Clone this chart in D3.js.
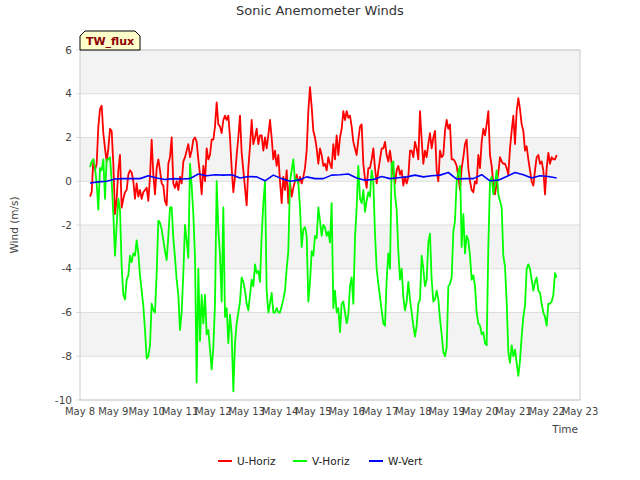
<!DOCTYPE html>
<html>
<head>
<meta charset="utf-8">
<script src="https://cdn.jsdelivr.net/npm/d3@7"></script>
<style>
  body { margin: 0; background: #fff; }
  svg { display: block; font-family: "DejaVu Sans", sans-serif; }
</style>
</head>
<body>
<svg id="chart" width="640" height="480"></svg>
<script>
// ---- data ----
const seriesNames = ["U-Horiz", "V-Horiz", "W-Vert"];
const seriesColors = ["#ff0000", "#00ff00", "#0000ff"];
const yTicks = [-10, -8, -6, -4, -2, 0, 2, 4, 6];

// U and V sampled every 0.05 day from May 8 07:12
const uvStart = "2021-05-08T07:12:00";
const uvStepMinutes = 72;
const uHoriz = [
 -0.7,-0.5,1.0,0.5,0.8,2.5,3.3,3.45,2.2,1.5,0.9,1.5,2.4,2.3,0.8,-1.5,-0.8,0.5,1.2,-1.2,
 -0.8,-0.5,-0.4,0.3,0.5,0.4,0.0,-0.8,-0.1,-0.7,-0.4,-0.8,-0.5,-0.4,-0.3,-0.9,0.2,1.9,0.3,-0.6,
 0.6,1.0,0.5,-0.1,-0.2,-0.9,-1.1,0.8,1.1,2.0,-0.1,-0.3,0.0,-0.4,0.2,-0.1,0.9,1.1,1.4,1.7,
 1.1,1.4,1.9,2.0,1.8,1.0,0.3,-0.6,0.7,0.0,
 1.5,1.0,1.2,1.9,1.9,2.5,3.6,2.6,2.5,2.2,2.8,3.0,2.8,3.0,2.0,0.6,-0.5,0.2,1.2,2.0,
 3.0,1.3,0.5,-0.3,-1.1,0.6,1.6,2.8,1.7,2.0,2.4,1.7,2.1,2.1,1.4,2.0,1.5,2.1,2.8,2.0,
 1.0,1.4,0.7,1.2,0.0,-1.0,0.2,-0.4,0.5,-1.0,0.0,-0.7,-0.3,0.0,0.3,-0.1,0.2,-0.1,0.2,0.6,
 1.4,3.2,4.3,3.4,2.3,2.0,1.5,0.8,1.5,1.2,0.7,
 0.8,0.5,1.1,0.8,0.6,1.7,1.0,2.1,1.2,2.0,2.4,3.2,2.8,3.2,2.9,3.0,2.5,1.8,1.5,1.2,
 1.9,2.5,2.6,0.8,0.1,-0.3,0.6,0.6,1.0,1.5,0.6,-0.1,0.5,1.0,1.5,1.5,1.8,1.2,0.9,1.4,
 0.8,0.3,-0.1,0.5,0.7,0.3,0.5,-0.2,0.2,-0.1,0.2,1.4,1.4,1.1,1.8,1.5,1.0,3.2,1.9,0.8,
 1.4,1.1,1.7,2.2,1.5,2.0,2.3,0.5,0.0,1.4,1.1,
 1.2,2.3,2.8,2.4,2.6,1.0,1.0,0.9,0.7,0.2,-0.4,0.6,1.1,1.7,1.9,0.6,0.0,-0.4,-0.5,0.0,
 -0.1,1.2,0.6,1.8,2.4,2.1,2.6,3.2,1.2,0.7,-0.1,-0.6,-0.1,0.4,1.1,0.9,0.8,0.8,0.6,0.3,
 1.5,2.3,3.0,1.7,3.2,3.8,3.3,2.6,2.3,1.4,1.6,1.0,0.5,0.0,-0.2,0.5,1.1,1.2,0.8,0.9,
 0.5,-0.6,0.6,1.3,0.8,1.1,1.0,1.0,1.2
];
const vHoriz = [
 0.65,0.9,1.0,0.6,-0.1,-1.3,0.6,0.5,1.0,-0.8,1.0,1.0,1.1,0.0,-1.5,-3.4,-2.0,-0.8,-1.3,-3.9,
 -5.2,-5.4,-4.5,-4.3,-3.4,-3.7,-3.3,-3.4,-2.7,-3.3,-4.3,-5.0,-5.7,-6.8,-8.1,-8.0,-7.5,-5.6,-5.9,-6.0,
 -4.2,-1.8,-1.9,-2.2,-2.7,-3.2,-3.6,-2.5,-1.2,-1.2,-2.6,-3.5,-4.5,-5.2,-6.8,-6.0,-4.2,-2.0,-2.7,-3.5,
 0.8,-0.2,-1.5,-3.5,-9.2,-4.0,-7.3,-5.2,-6.5,-5.2,
 -7.0,-6.8,-7.7,-8.6,-7.6,-5.6,0.0,-2.2,-3.4,-5.5,-1.2,-6.2,-5.8,-7.4,-6.1,-7.0,-9.6,-7.4,-6.5,-6.0,
 -5.5,-4.4,-4.6,-5.0,-5.6,-5.9,-5.2,-4.5,-4.8,-3.8,-4.2,-4.1,-4.6,-2.5,-1.0,0.0,-5.0,-6.0,-5.6,-5.1,
 -6.0,-6.0,-5.8,-6.0,-6.0,-5.7,-5.4,-5.0,-4.0,-3.2,0.0,0.5,1.0,0.0,0.1,-0.1,-1.2,-3.0,-2.2,-2.1,
 -2.5,-5.5,-4.6,-3.2,-3.4,-2.5,-2.6,-1.2,-1.8,-2.5,-2.0,
 -2.1,-2.5,-2.3,-2.8,-1.0,-5.8,-5.0,-6.0,-5.8,-6.9,-5.6,-5.5,-6.0,-6.5,-6.1,-4.8,-4.4,-5.6,-2.6,-1.2,
 0.7,-0.8,-1.0,-0.4,-1.4,-0.9,-0.5,-0.7,0.5,0.0,-2.4,-4.0,-4.7,-5.3,-5.9,-6.5,-6.6,-4.5,-3.3,-4.0,
 0.8,0.9,-0.6,-1.3,-3.2,-4.5,-4.0,-5.3,-5.9,-5.5,-4.6,-5.4,-6.0,-6.6,-7.1,-6.6,-5.6,-5.4,-3.4,-4.0,
 -4.8,-4.5,-2.8,-2.4,-4.5,-5.5,-5.4,-5.0,-5.4,-6.3,-7.0,
 -7.8,-8.0,-7.6,-4.8,-4.7,-4.4,-2.3,-1.8,0.0,0.4,0.7,-3.0,-1.5,-3.3,-2.5,-2.7,-3.4,-4.5,-4.3,-4.8,
 -6.0,-6.5,-6.6,-7.0,-6.9,-7.4,-7.5,-3.0,0.0,0.2,-0.6,-0.1,0.5,-0.6,-0.9,-1.2,-3.4,-3.9,-5.5,-7.8,
 -8.3,-7.5,-8.0,-7.7,-8.3,-8.9,-8.2,-7.1,-6.2,-5.7,-4.0,-3.8,-4.0,-4.5,-5.0,-4.6,-4.4,-5.0,-5.1,-5.6,
 -6.0,-6.2,-6.6,-5.6,-5.6,-5.5,-5.2,-4.2,-4.4
];
// W sampled every 0.25 day from May 8 07:12
const wStart = "2021-05-08T07:12:00";
const wStepMinutes = 360;
const wVert = [
 -0.08,-0.03,0.0,0.1,0.12,0.12,0.12,0.25,0.15,0.08,0.12,0.1,0.12,0.33,0.25,0.3,0.28,0.3,0.15,0.22,
 0.2,0.02,0.28,0.12,0.0,0.05,0.2,0.12,0.12,0.28,0.3,0.33,0.15,0.05,0.08,0.22,0.12,0.16,0.2,0.28,
 0.2,0.25,0.28,0.4,0.1,0.12,0.12,0.3,0.02,0.05,0.22,0.4,0.3,0.15,0.25,0.22,0.15
];
const xStartLabel = "2021-05-08T00:00:00";
const xEndLabel = "2021-05-23T00:00:00";

// ---- layout ----
const svg = d3.select("#chart");
const m = { left: 80, right: 60, top: 50, bottom: 80 };
const W = 640, H = 480;
const pw = W - m.left - m.right, ph = H - m.top - m.bottom;

const x = d3.scaleTime().domain([new Date(xStartLabel), new Date(xEndLabel)]).range([m.left, m.left + pw]);
const y = d3.scaleLinear().domain([-10, 6]).range([m.top + ph, m.top]);

function mkSeries(startStr, stepMin, vals) {
  const t0 = new Date(startStr).getTime();
  return vals.map((v, i) => ({ t: new Date(t0 + i * stepMin * 60000), v }));
}
const data = [
  mkSeries(uvStart, uvStepMinutes, uHoriz),
  mkSeries(uvStart, uvStepMinutes, vHoriz),
  mkSeries(wStart, wStepMinutes, wVert)
];

// background bands
const g = svg.append("g");
for (let i = 0; i < yTicks.length - 1; i++) {
  const lo = yTicks[i], hi = yTicks[i + 1];
  const idxFromTop = yTicks.length - 2 - i;
  g.append("rect")
    .attr("x", m.left).attr("width", pw)
    .attr("y", y(hi)).attr("height", y(lo) - y(hi))
    .attr("fill", idxFromTop % 2 === 0 ? "#f3f3f3" : "#ffffff");
}
// gridlines
g.selectAll("line.grid").data(yTicks).enter().append("line")
  .attr("x1", m.left - 4).attr("x2", m.left + pw)
  .attr("y1", d => y(d)).attr("y2", d => y(d))
  .attr("stroke", "#dddddd").attr("stroke-width", 1);
// frame
g.append("rect").attr("x", m.left).attr("y", m.top).attr("width", pw).attr("height", ph)
  .attr("fill", "none").attr("stroke", "#cccccc").attr("stroke-width", 1);

// y axis labels
svg.append("g").selectAll("text").data(yTicks).enter().append("text")
  .attr("x", m.left - 8).attr("y", d => y(d)).attr("dy", "0.35em")
  .attr("text-anchor", "end").attr("font-size", 10.5).attr("fill", "#444")
  .text(d => d);

// x axis labels
const xTicks = d3.timeDay.range(new Date(xStartLabel), d3.timeDay.offset(new Date(xEndLabel), 1));
const fmt = d3.timeFormat("%b %-d");
svg.append("g").selectAll("text").data(xTicks).enter().append("text")
  .attr("x", d => x(d)).attr("y", m.top + ph + 15)
  .attr("text-anchor", "middle").attr("font-size", 10).attr("fill", "#444")
  .text(d => fmt(d));

// lines
const line = d3.line().x(d => x(d.t)).y(d => y(d.v));
const clip = svg.append("clipPath").attr("id", "clip").append("rect")
  .attr("x", m.left).attr("y", m.top).attr("width", pw).attr("height", ph);
const lg = svg.append("g").attr("clip-path", "url(#clip)");
data.forEach((s, i) => {
  lg.append("path").datum(s).attr("d", line)
    .attr("fill", "none").attr("stroke", seriesColors[i])
    .attr("stroke-width", i === 2 ? 1.6 : 1.8).attr("stroke-linejoin", "round");
});

// title
svg.append("text").attr("x", W / 2).attr("y", 15).attr("text-anchor", "middle")
  .attr("font-size", 13).attr("fill", "#333").text("Sonic Anemometer Winds");
// axis titles
svg.append("text").attr("transform", `translate(18,${m.top + ph / 2}) rotate(-90)`)
  .attr("text-anchor", "middle").attr("font-size", 10.5).attr("fill", "#444").text("Wind (m/s)");
svg.append("text").attr("x", 578).attr("y", 433).attr("text-anchor", "end")
  .attr("font-size", 10.5).attr("fill", "#444").text("Time");

// TW_flux tag
const bx = 80, by = 31, bw = 60, bh = 19, c = 5;
svg.append("path")
  .attr("d", `M${bx},${by + bh} L${bx},${by + c} L${bx + c},${by} L${bx + bw - c},${by} L${bx + bw},${by + c} L${bx + bw},${by + bh} Z`)
  .attr("fill", "#ffffcc").attr("stroke", "#000").attr("stroke-width", 1);
svg.append("text").attr("x", bx + bw / 2).attr("y", by + 14).attr("text-anchor", "middle")
  .attr("font-size", 11).attr("font-weight", "bold").attr("fill", "#8b0000").text("TW_flux");

// legend
const legX = [218, 293, 369];
const leg = svg.append("g");
seriesNames.forEach((n, i) => {
  leg.append("line").attr("x1", legX[i]).attr("x2", legX[i] + 14)
    .attr("y1", 461).attr("y2", 461).attr("stroke", seriesColors[i]).attr("stroke-width", 2);
  leg.append("text").attr("x", legX[i] + 19).attr("y", 461).attr("dy", "0.35em")
    .attr("font-size", 10.5).attr("fill", "#222").text(n);
});
</script>
</body>
</html>
